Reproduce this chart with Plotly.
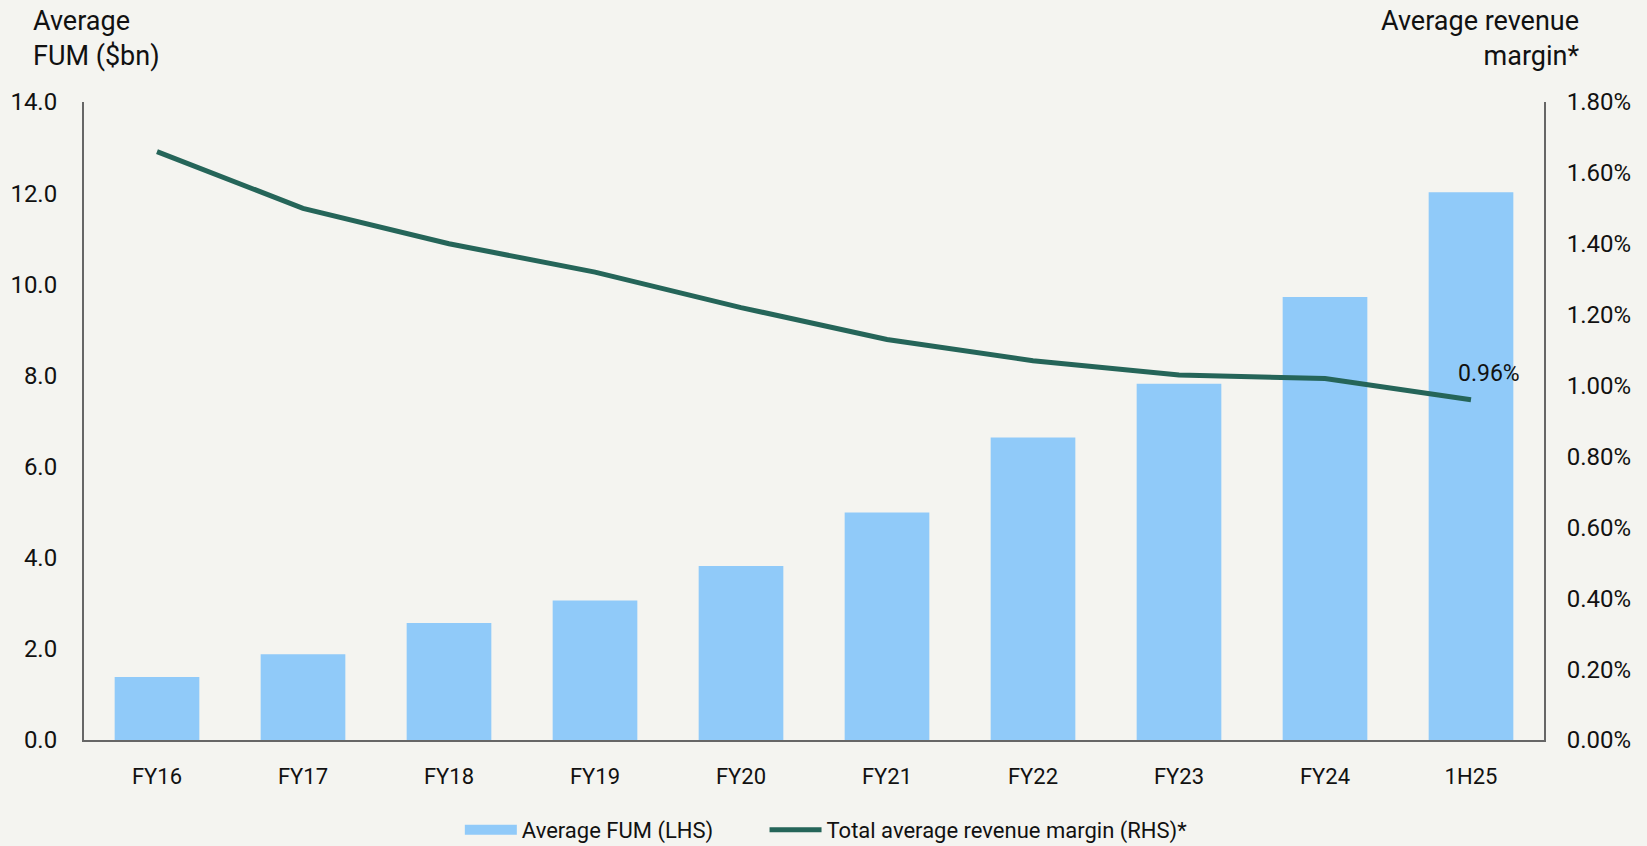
import plotly.graph_objects as go

periods = ["FY16", "FY17", "FY18", "FY19", "FY20", "FY21", "FY22", "FY23", "FY24", "1H25"]
avg_fum_bn = [1.38, 1.88, 2.57, 3.06, 3.82, 4.99, 6.64, 7.82, 9.72, 12.02]
revenue_margin_pct = [1.66, 1.50, 1.40, 1.32, 1.22, 1.13, 1.07, 1.03, 1.02, 0.96]

left_ticks = [0, 2, 4, 6, 8, 10, 12, 14]
right_ticks = [0.0, 0.2, 0.4, 0.6, 0.8, 1.0, 1.2, 1.4, 1.6, 1.8]

BAR = "#90CAF9"
LINE = "#256559"
BG = "#F4F4F0"
FONT = "Roboto, Liberation Sans, sans-serif"
AXIS = "#666666"
TXT = "#111111"

fig = go.Figure()
fig.add_trace(go.Bar(
    x=periods, y=avg_fum_bn, name="Average FUM (LHS)",
    marker=dict(color=BAR, line=dict(width=0)), yaxis="y", showlegend=False,
))
# legend swatch for the bars: a wide flat block
fig.add_trace(go.Scatter(
    x=[None], y=[None], name="Average FUM (LHS)", mode="lines",
    line=dict(color=BAR, width=14), yaxis="y", legend="legend",
))
fig.add_trace(go.Scatter(
    x=periods, y=revenue_margin_pct, name="Total average revenue margin (RHS)*",
    mode="lines", line=dict(color=LINE, width=5), yaxis="y2", legend="legend2",
))

fig.add_annotation(
    x=periods[-1], y=revenue_margin_pct[-1], yref="y2", xref="x",
    text=f"{revenue_margin_pct[-1]:.2f}%", showarrow=False,
    xshift=18, yshift=26, font=dict(size=23, color=TXT, family=FONT),
)
fig.add_annotation(
    x=0, y=1, xref="paper", yref="paper", xanchor="left", yanchor="bottom",
    xshift=-53, yshift=28, align="left", showarrow=False,
    text="Average<br>FUM ($bn)", font=dict(size=27, color=TXT, family=FONT),
)
fig.add_annotation(
    x=1, y=1, xref="paper", yref="paper", xanchor="right", yanchor="bottom",
    xshift=37, yshift=28, align="right", showarrow=False,
    text="Average revenue<br>margin*", font=dict(size=27, color=TXT, family=FONT),
)

legend_style = dict(orientation="h", xanchor="left", xref="container",
                    y=0.019, yanchor="middle", yref="container",
                    font=dict(size=22), bgcolor="rgba(0,0,0,0)", itemwidth=52)

fig.update_layout(
    width=1647, height=846,
    paper_bgcolor=BG, plot_bgcolor=BG,
    font=dict(family=FONT, size=22, color=TXT),
    margin=dict(l=84, r=103, t=102, b=106, autoexpand=False),
    bargap=0.42,
    showlegend=True,
    legend=dict(x=0.2792, **legend_style),
    legend2=dict(x=0.4642, **legend_style),
    xaxis=dict(showgrid=False, showline=True, linecolor=AXIS, linewidth=2,
               ticks="", tickfont=dict(size=22), ticklabelstandoff=16),
    yaxis=dict(range=[0, 14], tickvals=left_ticks, tickformat=".1f",
               showgrid=False, showline=True, linecolor=AXIS, linewidth=2,
               zeroline=False, ticks="", tickfont=dict(size=24), ticklabelstandoff=20),
    yaxis2=dict(range=[0, 1.8], tickvals=right_ticks,
                ticktext=[f"{v:.2f}%" for v in right_ticks],
                overlaying="y", side="right", showgrid=False, showline=True,
                linecolor=AXIS, linewidth=2, zeroline=False, ticks="",
                tickfont=dict(size=24), ticklabelstandoff=16),
)

fig.write_html("out.html")
